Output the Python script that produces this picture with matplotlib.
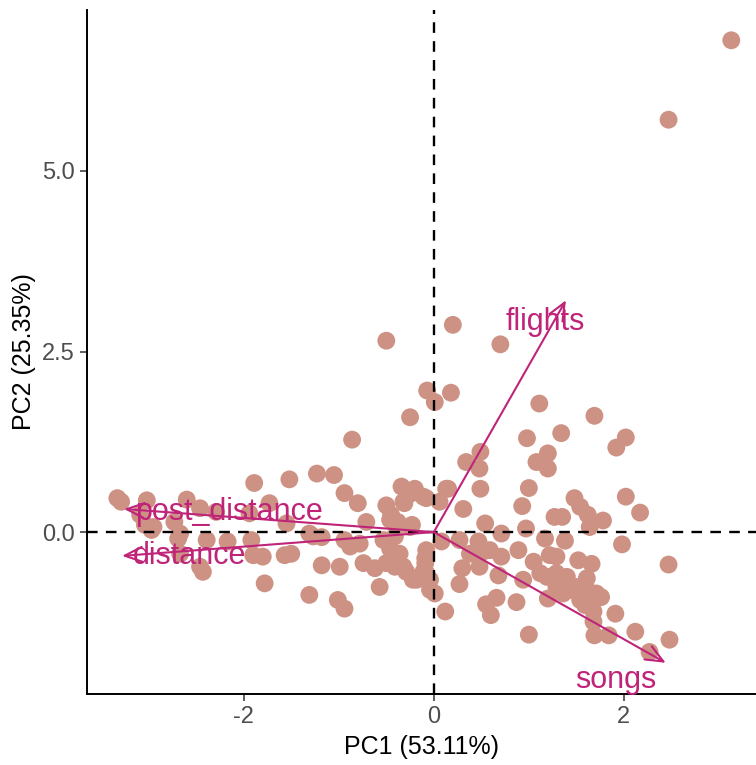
import matplotlib
matplotlib.use("Agg")
import matplotlib.pyplot as plt

plt.rcParams['font.family'] = ['Liberation Sans', 'DejaVu Sans']

# PCA scores (PC1, PC2)
pc1 = [
    3.13, 2.47, 0.20, 0.70, -0.50,
    -0.07, 0.01, 0.18, -0.25, 1.11, 1.69, -0.86,
    0.98, 1.34, 1.92, 2.02,
    0.49, 0.34, 0.48, 1.20, 1.08, 1.20,
    0.49, 1.00, 0.15, -0.11, 0.06, 0.31, 0.93, 1.27, 1.35, 1.48, 1.54, 1.62, 1.78, 2.02, 2.17, 1.64,
    0.54, 0.97, 0.71, 1.17, 1.38, 1.98, 2.47,
    0.08, 0.27, 0.47, 0.59, 0.71, 0.89, 1.05, 1.22, 1.29, 1.52, 1.66,
    -0.09, 0.30, 0.48, 0.68, 0.94, 1.12, 1.29, 1.40, 1.61, 1.50, 1.71, 1.76,
    0.27, -0.04, 0.01, 0.55, 0.66, 0.60, 0.87, 1.20, 1.36, 1.59, 1.68, 1.91, 1.68, 1.69, 1.84, 2.12,
    2.27, 2.48, 0.12, 1.00, -0.08,
    0.38, 0.52, 1.45, 1.61, 1.54, 1.67, 1.29, 1.19, 0.13, -0.22, -0.11, -0.09,
    -0.34, -0.20, -0.08, -0.50, -0.31, -0.46, -0.23,
    -0.45, -0.38, -0.41, -0.53, -0.46, -0.36, -0.50, -0.41, -0.29, -0.18, -0.08, -0.57, -0.32, -0.43,
    -0.94, -0.80, -0.71, -0.23, -0.32, -0.25,
    -1.52, -1.23, -1.05, -1.89, -1.55, -1.27, -1.18, -0.94, -0.88, -0.78, -1.57, -1.80, -1.18, -0.99,
    -0.74, -0.62, -1.78, -1.31, -1.01, -0.94, -0.04,
    -3.33, -3.29, -3.02, -3.09, -2.95, -2.60, -2.46, -2.73, -2.69, -2.39, -2.17, -1.92, -2.29,
    -2.46, -2.43, -1.90, -2.67, -1.73, -1.94, -3.04, -2.97, -2.67, -1.50, -1.31,
]
pc2 = [
    6.81, 5.71, 2.87, 2.60, 2.65,
    1.96, 1.80, 1.93, 1.59, 1.78, 1.61, 1.28,
    1.30, 1.37, 1.17, 1.31,
    1.11, 0.97, 0.88, 1.09, 0.97, 0.88,
    0.60, 0.61, 0.60, 0.49, 0.42, 0.32, 0.36, 0.21, 0.21, 0.47, 0.35, 0.24, 0.16, 0.49, 0.27, 0.07,
    0.12, 0.05, -0.02, -0.09, -0.12, -0.17, -0.45,
    -0.13, -0.11, -0.13, -0.25, -0.34, -0.25, -0.41, -0.32, -0.34, -0.39, -0.44,
    -0.43, -0.50, -0.48, -0.60, -0.66, -0.57, -0.57, -0.62, -0.64, -0.76, -0.85, -0.90,
    -0.72, -0.66, -0.85, -1.00, -0.91, -1.15, -0.97, -0.92, -0.85, -1.01, -1.10, -1.13, -1.24, -1.43, -1.43, -1.38,
    -1.66, -1.49, -1.10, -1.42, -0.25,
    -0.30, -0.27, -0.80, -0.80, -0.94, -0.99, -0.76, -0.62, 0.60, -0.66, -0.55, -0.36,
    0.63, 0.60, 0.47, 0.37, 0.40, 0.17, 0.10,
    0.24, 0.14, -0.06, -0.11, -0.23, -0.30, -0.43, -0.48, -0.55, -0.66, -0.57, -0.76, -0.48, -0.43,
    0.54, 0.40, 0.14, 0.54, 0.42, 0.07,
    0.73, 0.81, 0.79, 0.68, 0.12, -0.06, -0.07, -0.11, -0.20, -0.16, -0.32, -0.34, -0.46, -0.48,
    -0.43, -0.50, -0.71, -0.87, -0.94, -1.06, -0.80,
    0.47, 0.42, 0.44, 0.24, 0.07, 0.45, 0.33, 0.14, -0.09, -0.11, -0.13, -0.11, 0.28,
    -0.48, -0.55, -0.32, -0.30, 0.40, 0.26, 0.10, 0.03, -0.02, -0.30, -0.02,
]

# variable loadings (arrow tips) and label positions
variables = ["flights", "songs", "post_distance", "distance"]
load_x = [1.39, 2.44, -3.26, -3.28]
load_y = [3.21, -1.81, 0.32, -0.33]
label_x = [1.17, 1.91, -2.16, -2.57]
label_y = [2.91, -2.05, 0.28, -0.33]

point_col = "#CD9284"
arrow_col = "#BF2479"

fig = plt.figure(figsize=(7.56, 7.65), dpi=100)
ax = fig.add_axes([0.115, 0.093, 0.885, 0.894])

ax.scatter(pc1, pc2, s=165, color=point_col, edgecolors="none", zorder=2)

ax.axhline(0, color="black", lw=1.7, ls=(0, (4.5, 3.5)), zorder=3)
ax.axvline(0, color="black", lw=1.7, ls=(0, (4.5, 3.5)), zorder=3)

for name, vx, vy, lx, ly in zip(variables, load_x, load_y, label_x, label_y):
    ax.annotate("", xy=(vx, vy), xytext=(0, 0),
                arrowprops=dict(arrowstyle="->,head_length=0.7,head_width=0.3",
                                color=arrow_col, lw=1.5, shrinkA=0, shrinkB=0,
                                mutation_scale=18),
                zorder=4)
    ax.text(lx, ly, name, color=arrow_col, fontsize=22, ha="center", va="center", zorder=5)

ax.set_xlim(-3.65, 3.39)
ax.set_ylim(-2.24, 7.23)
ax.set_xticks([-2, 0, 2])
ax.set_xticklabels(["-2", "0", "2"])
ax.set_yticks([0.0, 2.5, 5.0])
ax.set_yticklabels(["0.0", "2.5", "5.0"])

for side in ["top", "right"]:
    ax.spines[side].set_visible(False)
for side in ["left", "bottom"]:
    ax.spines[side].set_linewidth(1.4)
ax.tick_params(axis="both", length=5, width=1.1, color="#333333",
               labelcolor="#4D4D4D", labelsize=17, pad=4)

ax.set_xlabel("PC1 (53.11%)", fontsize=18, labelpad=5)
ax.set_ylabel("PC2 (25.35%)", fontsize=18, labelpad=4)

fig.savefig("out.png", dpi=100)
